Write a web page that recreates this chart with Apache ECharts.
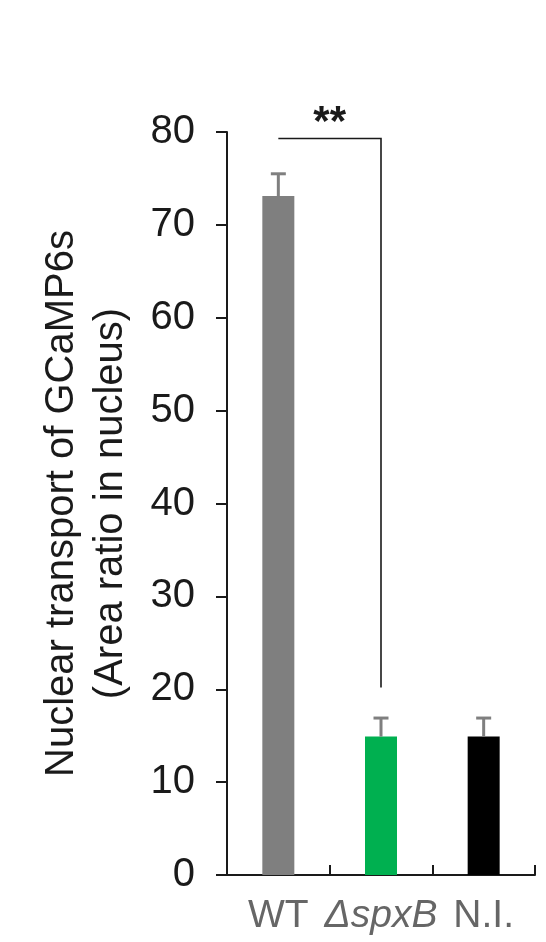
<!DOCTYPE html>
<html>
<head>
<meta charset="utf-8">
<script src="https://cdn.jsdelivr.net/npm/echarts@6/dist/echarts.min.js"></script>
<style>html,body{margin:0;padding:0;background:#fff}#c{width:546px;height:942px}</style>
</head>
<body>
<div id="c"></div>
<script>
const categories = ['WT', 'ΔspxB', 'N.I.'];
const values = [73.1, 14.9, 14.9];
const errors = [2.4, 2.0, 2.0];
const barColors = ['#7f7f7f', '#00b050', '#000000'];
const yTicks = { min: 0, max: 80, interval: 10 };
const bracket = { from: 0, to: 1, top: 79.3, bottom: 20.2, label: '**' };
const yTitle = 'Nuclear transport of GCaMP6s\n(Area ratio in nucleus)';

const chart = echarts.init(document.getElementById('c'));
const font = '"Liberation Sans", Arial, sans-serif';

chart.setOption({
  animation: false,
  grid: { left: 227, right: 11, top: 132, bottom: 67, containLabel: false },
  xAxis: {
    type: 'category',
    data: categories,
    axisLine: { lineStyle: { color: '#1a1a1a', width: 2 } },
    axisTick: { show: true, inside: true, length: 10, lineStyle: { color: '#1a1a1a', width: 2 } },
    axisLabel: {
      interval: 0, hideOverlap: false,
      color: '#666666', fontSize: 39, fontFamily: font, margin: 22,
      formatter: v => v === 'ΔspxB' ? '{i|ΔspxB}' : v,
      rich: { i: { fontStyle: 'italic', fontSize: 39, color: '#666666', fontFamily: font } }
    }
  },
  yAxis: {
    type: 'value',
    min: yTicks.min, max: yTicks.max, interval: yTicks.interval,
    splitLine: { show: false },
    axisLine: { show: true, lineStyle: { color: '#1a1a1a', width: 2 } },
    axisTick: { show: true, length: 11, lineStyle: { color: '#1a1a1a', width: 2 } },
    axisLabel: { color: '#1a1a1a', fontSize: 40, fontFamily: font, margin: 32 },
    name: yTitle,
    nameLocation: 'middle',
    nameRotate: 90,
    nameGap: 92,
    nameTextStyle: { color: '#1a1a1a', fontSize: 40, lineHeight: 49, fontFamily: font }
  },
  series: [
    {
      type: 'bar',
      barWidth: 32,
      data: values.map((v, i) => ({ value: v, itemStyle: { color: barColors[i] } })),
      z: 2
    },
    {
      type: 'custom',
      z: 3,
      data: values.map((v, i) => [i, v, v + errors[i]]),
      renderItem: (params, api) => {
        const base = api.coord([api.value(0), api.value(1)]);
        const top = api.coord([api.value(0), api.value(2)]);
        const hw = 7.5;
        return {
          type: 'group',
          children: [
            { type: 'line', shape: { x1: base[0], y1: base[1], x2: top[0], y2: top[1] }, style: { stroke: '#7f7f7f', lineWidth: 3 } },
            { type: 'line', shape: { x1: top[0] - hw, y1: top[1], x2: top[0] + hw, y2: top[1] }, style: { stroke: '#7f7f7f', lineWidth: 3 } }
          ]
        };
      }
    },
    {
      type: 'custom',
      z: 4,
      data: [[bracket.from, bracket.to, bracket.top, bracket.bottom]],
      renderItem: (params, api) => {
        const a = api.coord([api.value(0), api.value(2)]);
        const b = api.coord([api.value(1), api.value(2)]);
        const c = api.coord([api.value(1), api.value(3)]);
        return {
          type: 'group',
          children: [
            { type: 'polyline', shape: { points: [a, b, c] }, style: { stroke: '#1a1a1a', lineWidth: 1.6, fill: null } },
            { type: 'text', x: (a[0] + b[0]) / 2, y: a[1] - 15,
              style: { text: bracket.label, fontSize: 42, fontWeight: 'bold', fontFamily: font, fill: '#1a1a1a', align: 'center', verticalAlign: 'middle' } }
          ]
        };
      }
    }
  ]
});
</script>
</body>
</html>
